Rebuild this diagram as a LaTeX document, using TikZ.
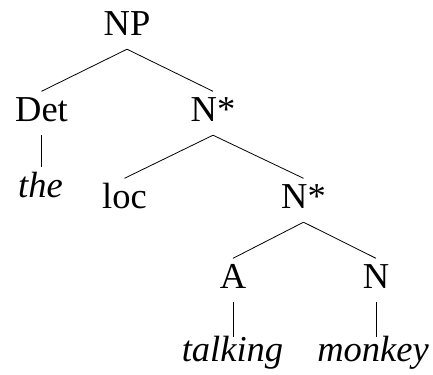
\documentclass[tikz,border=0pt]{standalone}
\usepackage{fontspec}
\setmainfont{Liberation Serif}
\begin{document}
\begin{tikzpicture}[x=1bp,y=-1bp,
  tn/.style={anchor=base,inner sep=0pt,text height=29.5bp,text depth=14bp,
    font=\fontsize{36.5bp}{40bp}\selectfont},
  leaf/.style={tn,text height=24bp,font=\fontsize{36.5bp}{40bp}\selectfont\itshape},
  edge/.style={line width=0.8bp}]
\useasboundingbox (0,0) rectangle (433,374);
% category labels
\node[tn] (np)  at (127,35)  {NP};
\node[tn] (det) at (41.5,121) {Det};
\node[tn] (ns1) at (213,121) {N*};
\node[tn] (loc) at (124.5,208) {loc};
\node[tn] (ns2) at (303.5,208) {N*};
\node[tn] (a)   at (233,288) {A};
\node[tn] (n)   at (376,288) {N};
% words
\node[leaf,text height=29.5bp] (the) at (40.5,197) {the};
\node[leaf] (talk) at (232.5,361) {talking};
\node[leaf] (monk) at (373,361) {monkey};
% branches
\draw[edge] (np.south) -- (det.north);
\draw[edge] (np.south) -- (ns1.north);
\draw[edge] (det.south) -- (det.south |- the.north);
\draw[edge] (ns1.south) -- (loc.north);
\draw[edge] (ns1.south) -- (ns2.north);
\draw[edge] (ns2.south) -- (a.north);
\draw[edge] (ns2.south) -- (n.north);
\draw[edge] (a.south) -- (a.south |- talk.north);
\draw[edge] (n.south) -- (n.south |- monk.north);
\end{tikzpicture}
\end{document}
